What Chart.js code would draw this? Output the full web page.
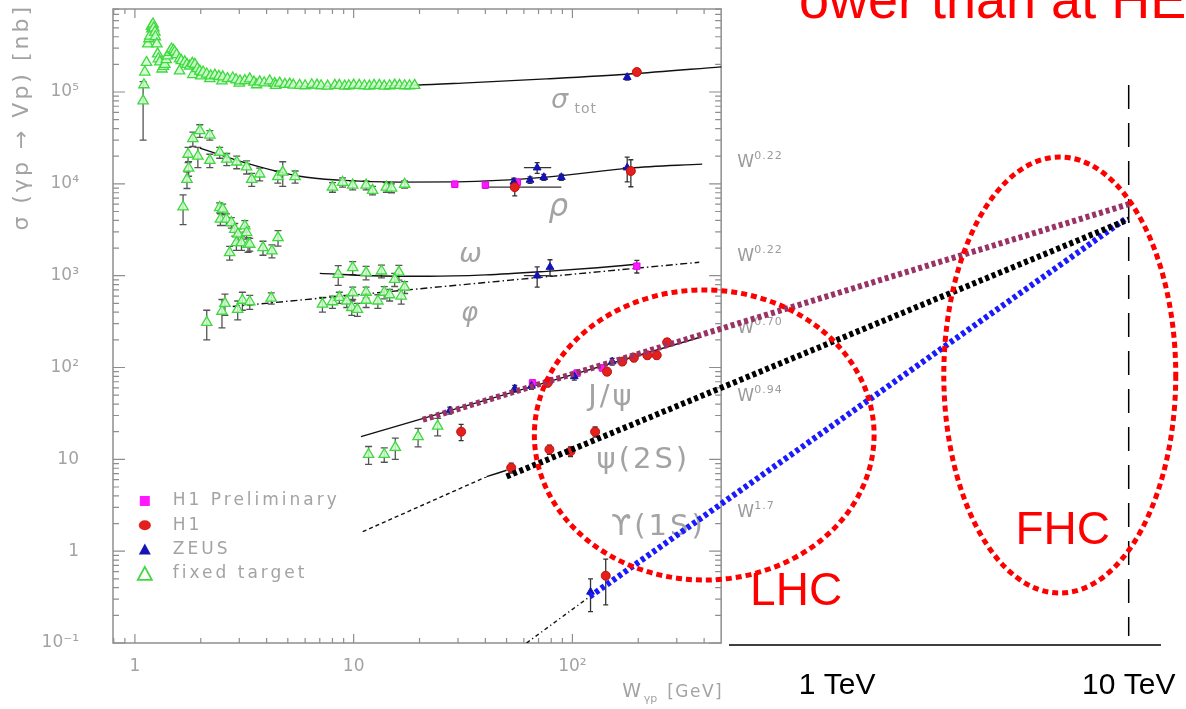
<!DOCTYPE html>
<html><head><meta charset="utf-8">
<script src="https://cdn.jsdelivr.net/npm/chart.js@4.4.1/dist/chart.umd.min.js"></script>
<style>html,body{margin:0;padding:0;background:#fff;overflow:hidden}</style>
</head><body>
<canvas id="c" width="1186" height="709" style="width:1186px;height:709px;display:block"></canvas>
<script>
// ---------------- tick labels ----------------
const xTickValues = [1, 10, 100, 1000, 10000];
const xTickLabels = ['1', '10', '10²', '1 TeV', '10 TeV'];
const yTickValues = [0.1, 1, 10, 100, 1000, 10000, 100000];
const yTickLabels = ['10⁻¹', '1', '10', '10²', '10³', '10⁴', '10⁵'];

// ---------------- fixed target (open green triangles) ----------------
const totFtW = [1.09,1.10,1.11,1.13,1.146,1.16,1.17,1.19,1.196,1.21,1.22,1.234,1.24,1.26,1.27,1.28,1.30,1.33,1.35,1.37,1.39,1.41,1.44,1.47,1.50,1.52,1.55,1.60,1.60,1.63,1.69,1.73,1.78,1.83,1.84,1.88,1.93,1.98,2.0,2.05,2.13,2.2,2.22,2.32,2.42,2.5,2.52,2.65,2.80,2.90,3.0,3.02,3.18,3.35,3.5,3.6,3.72,3.9,4.13,4.35,4.4,4.59,4.85,5.1,5.3,5.66,6.0,6.43,6.8,7.1,7.6,8.2,8.6,9.1,9.5,10,10.6,11.2,11.8,12.4,13.1,13.8,14.6,15.4,16.2,17.1,18,19];
const totFtS = [80000,120000,165000,210000,334000,380000,407000,520000,486000,550000,500000,450000,400000,334000,260000,230000,213000,178000,190000,200000,225000,247000,270000,294000,285000,273000,255000,229000,170000,220000,213000,200000,192000,205000,155000,200000,180000,169000,150000,165000,157000,140000,150000,153000,148000,132000,146000,140000,142000,136000,125000,132000,133000,139000,128000,120000,129000,126000,132000,124000,118000,125000,121000,122000,119000,118000,117000,120000,119000,117000,116000,118000,118000,116000,117000,119000,118000,117000,116000,118000,118000,116000,117000,119000,118000,117000,117000,118000];
const totFtErr = [50000,0,0,0,0,0,0,0,0,0,0,0,0,0,0,0,0,0,0,0,0,0,0,0,0,0,0,0,0,0,0,0,0,0,0,0,0,0,0,0,0,0,0,0,0,0,0,0,0,0,0,0,0,0,0,0,0,0,0,0,0,0,0,0,0,0,0,0,0,0,0,0,0,0,0,0,0,0,0,0,0,0,0,0,0,0,0,0];

const rhoFtW = [1.66,1.73,1.76,1.75,1.84,1.98,2.2,1.94,2.2,2.44,2.63,2.92,3.24,3.42,3.72,4.5,4.74,5.4,8.0,8.9,9.9,11.4,12.2,14.1,14.9,17.1];
const rhoFtS = [5600,11200,14800,21000,31000,38000,34000,20000,18000,22000,18600,17300,15300,11200,12800,12000,13400,12000,9200,10400,9700,9700,8500,9200,9000,9900];
const rhoFtErr = [2000,2300,2700,4000,5500,6000,4000,5000,3000,3000,2800,2700,2500,1800,2000,1800,4000,1800,1100,1200,1100,1100,900,1100,1000,900];

const omegaLowFtW = [2.44,2.52,2.46,2.62,2.76,2.86,2.96,2.91,3.07,3.18,3.24,3.29,2.71,3.35,3.85,4.23,4.51];
const omegaLowFtS = [5520,5300,4120,4120,3790,3200,2830,2290,2290,3480,2950,2200,1780,2200,2020,1860,2600];
const omegaLowFtErr = [700,700,600,600,500,500,400,400,400,500,450,400,300,350,350,300,500];

const omegaFtW = [8.5,9.9,11.4,13.4,16.1,15.4];
const omegaFtS = [1035,1225,1080,1125,1095,912];
const omegaFtErr = [250,200,180,180,200,150];

const phiFtW = [2.13,2.5,2.58,2.95,3.1,3.35,4.2,7.2,8.0,8.6,9.3,9.8,10.4,9.9,11.4,11.4,12.9,13.8,14.6,16.5,17.1];
const phiFtS = [310,410,500,430,540,520,570,490,520,580,530,450,430,650,660,540,530,660,620,600,750];
const phiFtErr = [110,140,130,100,120,90,80,90,80,80,80,80,70,100,90,90,90,100,90,110,110];

const jpsiFtW = [11.7,13.8,15.5,19.7,24.2];
const jpsiFtS = [11.3,11.3,13.5,17.7,23];
const jpsiFtErr = [2.5,2,3.5,4,5];

// ---------------- H1 (red circles) ----------------
const h1W = [197, 54.5, 185, 31, 77, 144, 169, 191, 220, 243, 271, 52.5, 78.5, 98, 127, 142];
const h1S = [165000, 9200, 13800, 20, 68, 90, 116, 128, 136, 136, 188, 8.1, 12.8, 12.2, 20, 0.54];
const h1Err = [8000, 1800, 4500, 4, 6, 8, 10, 12, 12, 12, 18, 1, 1.5, 1.5, 2.5, 0.28];
const h1WLo = [0, 40, 0, 0, 0, 0, 0, 0, 0, 0, 0, 0, 0, 0, 0, 0];
const h1WHi = [0, 89, 0, 0, 0, 0, 0, 0, 0, 0, 0, 0, 0, 0, 0, 0];

// ---------------- ZEUS (blue triangles) ----------------
const zeusW = [178, 54, 64, 69, 74, 89, 178, 69, 79, 27.5, 54.5, 65, 102, 152, 121];
const zeusS = [145000, 10500, 11000, 15000, 11800, 11800, 15000, 1000, 1240, 34, 59, 63, 80, 116, 0.36];
const zeusErr = [10000, 1000, 900, 2000, 900, 900, 4500, 250, 250, 3, 5, 5, 7, 10, 0.14];
const zeusWLo = [0, 0, 0, 60, 0, 0, 170, 60, 0, 0, 0, 0, 0, 0, 0];
const zeusWHi = [0, 0, 0, 80, 0, 0, 190, 80, 0, 0, 0, 0, 0, 0, 0];

// ---------------- H1 Preliminary (magenta squares) ----------------
const h1pW = [29, 40, 56, 197, 65.7, 78.5, 105, 137];
const h1pS = [9900, 9700, 10400, 1270, 68, 72, 87, 99];
const h1pErr = [700, 700, 800, 200, 5, 5, 6, 7];

// ---------------- fitted curves ----------------
const totCurveW = [5.0, 7.8, 19.4, 31.4, 76, 182, 479];
const totCurveS = [116000, 115000, 119000, 125000, 139000, 157000, 188000];
const rhoCurveW = [1.98, 3.35, 5.66, 8.6, 16.2, 29.5, 76, 182, 392];
const rhoCurveS = [24500, 16400, 12100, 10970, 10430, 10500, 11830, 14830, 16400];
const omegaCurveW = [7, 12, 22, 40, 76, 130, 195];
const omegaCurveS = [1060, 1000, 984, 1020, 1114, 1220, 1330];
const phiCurveW = [2.8, 380];
const phiCurveS = [462, 1400];
const jpsiCurveW = [10.8, 380];
const jpsiCurveS = [17.7, 212];
const psi2sDashW = [11, 40.5];
const psi2sDashS = [1.63, 6.47];
const psi2sSolidW = [40.5, 50];
const psi2sSolidS = [6.47, 7.6];
const upsCurveW = [61.7, 120];
const upsCurveS = [0.1, 0.32];

// ---------------- extrapolations to 10 TeV ----------------
const jpsiExtW = [20.7, 10000];
const jpsiExtS = [27, 6000];
const psi2sExtW = [50, 10000];
const psi2sExtS = [6.5, 4100];
const upsExtW = [120, 9700];
const upsExtS = [0.32, 4100];

// ---------------- annotations (data coordinates) ----------------
const procLabels = ['σ', 'ρ', 'ω', 'φ', 'J/ψ', 'ψ(2S)', 'ϒ(1S)'];
const procLabelW = [87.3, 86.3, 34.2, 33.9, 150.7, 211, 247];
const procLabelS = [79800, 5460, 1680, 383, 46.6, 9.6, 1.79];
const powerLabels = ['0.22', '0.22', '0.70', '0.94', '1.7'];
const powerLabelS = [17700, 1680, 276, 50, 2.73];
const legendLabels = ['H1 Preliminary', 'H1', 'ZEUS', 'fixed target'];

// ---------------- piecewise log scale (the slide stretches above ~500 GeV) ----------------
const LogBase = Chart.LogarithmicScale || Chart.registry.getScale('logarithmic');
const BREAK1 = 2.68, BREAK2 = 3.0, STRETCH1 = 362.5 / 219, STRETCH2 = 292 / 219;
function uOfLog(L) {
  if (L <= BREAK1) return L;
  if (L <= BREAK2) return BREAK1 + (L - BREAK1) * STRETCH1;
  return BREAK1 + (BREAK2 - BREAK1) * STRETCH1 + (L - BREAK2) * STRETCH2;
}
function logOfU(u) {
  const u1 = BREAK1, u2 = BREAK1 + (BREAK2 - BREAK1) * STRETCH1;
  if (u <= u1) return u;
  if (u <= u2) return BREAK1 + (u - u1) / STRETCH1;
  return BREAK2 + (u - u2) / STRETCH2;
}
class SlideLogScale extends LogBase {
  _uRange() { return [uOfLog(Math.log10(this.min)), uOfLog(Math.log10(this.max))]; }
  getPixelForValue(value) {
    if (value === undefined || value === null || !(value > 0)) return NaN;
    const r = this._uRange();
    return this.getPixelForDecimal((uOfLog(Math.log10(value)) - r[0]) / (r[1] - r[0]));
  }
  getValueForPixel(pixel) {
    const r = this._uRange();
    return Math.pow(10, logOfU(r[0] + this.getDecimalForPixel(pixel) * (r[1] - r[0])));
  }
}
SlideLogScale.id = 'slidelog';
SlideLogScale.defaults = LogBase.defaults;
Chart.register(SlideLogScale);

const X_MIN = 0.794, X_MAX = 14840, Y_MIN = 0.1, Y_MAX = 801700;
const FRAME_RIGHT_W = 478.6, RIGHT_AXIS_FROM = 503, RIGHT_AXIS_TO = 12900;
const GRAY = '#a3a3a3';

const P = (W, S) => W.map((w, i) => ({x: w, y: S[i]}));
const ftStyle = {pointStyle: 'triangle', pointRadius: 6, pointBorderWidth: 1.3, pointBorderColor: '#3fd83f', pointBackgroundColor: 'rgba(205,255,205,0.85)', showLine: false, order: 2, errColor: '#555', cap: 7};
const curve = (W, S, dash, width) => ({data: P(W, S), showLine: true, pointRadius: 0, borderColor: '#111', borderWidth: width || 1.4, borderDash: dash || [], fill: false, cubicInterpolationMode: 'monotone', order: 3});
const ext = (W, S, color) => ({data: P(W, S), showLine: true, pointRadius: 0, borderColor: color, borderWidth: 6, borderDash: [4, 3], borderCapStyle: 'butt', fill: false, order: 0});

const datasets = [
  curve(totCurveW, totCurveS), curve(rhoCurveW, rhoCurveS), curve(omegaCurveW, omegaCurveS),
  curve(phiCurveW, phiCurveS, [7, 3, 1.5, 3]), curve(jpsiCurveW, jpsiCurveS),
  curve(psi2sDashW, psi2sDashS, [4, 3]), curve(psi2sSolidW, psi2sSolidS), curve(upsCurveW, upsCurveS, [4, 3, 1.2, 3]),
  Object.assign({data: P(totFtW, totFtS), err: totFtErr}, ftStyle),
  Object.assign({data: P(rhoFtW, rhoFtS), err: rhoFtErr}, ftStyle),
  Object.assign({data: P(omegaLowFtW, omegaLowFtS), err: omegaLowFtErr}, ftStyle),
  Object.assign({data: P(omegaFtW, omegaFtS), err: omegaFtErr}, ftStyle),
  Object.assign({data: P(phiFtW, phiFtS), err: phiFtErr}, ftStyle),
  Object.assign({data: P(jpsiFtW, jpsiFtS), err: jpsiFtErr}, ftStyle),
  {data: P(h1W, h1S), err: h1Err, wLo: h1WLo, wHi: h1WHi, pointStyle: 'circle', pointRadius: 4.5, pointBackgroundColor: '#e3201c', pointBorderColor: '#c81010', pointBorderWidth: 1, showLine: false, order: 1, errColor: '#333', cap: 5},
  {data: P(zeusW, zeusS), err: zeusErr, wLo: zeusWLo, wHi: zeusWHi, pointStyle: 'triangle', pointRadius: 4.5, pointBackgroundColor: '#1414b4', pointBorderColor: '#1414b4', pointBorderWidth: 1, showLine: false, order: 1, errColor: '#333', cap: 5},
  {data: P(h1pW, h1pS), err: h1pErr, pointStyle: 'rect', pointRadius: 4.5, pointBackgroundColor: '#ff19ff', pointBorderColor: '#ee00ee', pointBorderWidth: 1, showLine: false, order: 1, errColor: '#333', cap: 5},
  ext(jpsiExtW, jpsiExtS, '#993366'), ext(psi2sExtW, psi2sExtS, '#000000'), ext(upsExtW, upsExtS, '#1a1aff')
];

function txt(ctx, s, x, y, font, color, align, base, spacing) {
  ctx.save();
  ctx.font = font; ctx.fillStyle = color; ctx.textAlign = align || 'left'; ctx.textBaseline = base || 'alphabetic';
  if ('letterSpacing' in ctx) ctx.letterSpacing = spacing || '0px';
  ctx.fillText(s, x, y);
  ctx.restore();
}

const overlay = {
  id: 'overlay',
  beforeDatasetsDraw(chart) {
    const ctx = chart.ctx, xs = chart.scales.x, ys = chart.scales.y;
    const X = v => xs.getPixelForValue(v), Y = v => ys.getPixelForValue(v);
    const L = xs.left, R = X(FRAME_RIGHT_W), T = ys.top, B = ys.bottom;
    ctx.save();
    ctx.strokeStyle = '#8e8e8e'; ctx.lineWidth = 1.5;
    ctx.strokeRect(L, T, R - L, B - T);
    ctx.lineWidth = 1.2;
    ctx.beginPath();
    const xMinor = [0.8, 0.9, 2, 3, 4, 5, 6, 7, 8, 9, 20, 30, 40, 50, 60, 70, 80, 90, 200, 300, 400];
    [1, 10, 100].forEach(v => { const p = X(v); ctx.moveTo(p, B); ctx.lineTo(p, B - 9); ctx.moveTo(p, T); ctx.lineTo(p, T + 9); });
    xMinor.forEach(v => { const p = X(v); ctx.moveTo(p, B); ctx.lineTo(p, B - 5); ctx.moveTo(p, T); ctx.lineTo(p, T + 5); });
    yTickValues.forEach(v => { const p = Y(v); ctx.moveTo(L, p); ctx.lineTo(L + 12, p); ctx.moveTo(R, p); ctx.lineTo(R - 12, p); });
    yTickValues.forEach(d => { for (let k = 2; k <= 9; k++) { const v = d * k; if (v > Y_MAX) break; const p = Y(v); ctx.moveTo(L, p); ctx.lineTo(L + 6, p); ctx.moveTo(R, p); ctx.lineTo(R - 6, p); } });
    ctx.stroke();
    ctx.strokeStyle = '#000'; ctx.lineWidth = 1.5;
    ctx.beginPath(); ctx.moveTo(X(RIGHT_AXIS_FROM), B + 2); ctx.lineTo(X(RIGHT_AXIS_TO), B + 2); ctx.stroke();
    ctx.setLineDash([24, 14]); ctx.lineWidth = 1.5;
    ctx.beginPath(); ctx.moveTo(X(10000), Y(119000)); ctx.lineTo(X(10000), Y(0.119)); ctx.stroke();
    ctx.setLineDash([]);
    ctx.restore();

    // y axis title (rotated)
    ctx.save();
    ctx.translate(22, T - 5); ctx.rotate(-Math.PI / 2);
    txt(ctx, 'σ (γp → Vp) [nb]', 0, 0, '22px "DejaVu Sans"', GRAY, 'right', 'middle', '3px');
    ctx.restore();

    const fonts = ['italic 27px "DejaVu Sans"', 'italic 31px "DejaVu Sans"', 'italic 27px "DejaVu Sans"', 'italic 26px "DejaVu Sans"', '29px "DejaVu Sans"', '29px "DejaVu Sans"', '29px "DejaVu Sans"'];
    procLabels.forEach((s, i) => txt(ctx, s, X(procLabelW[i]), Y(procLabelS[i]), fonts[i], GRAY, 'center', 'middle', i >= 4 ? '3px' : '0px'));
    txt(ctx, 'tot', X(procLabelW[0]) + 15, Y(procLabelS[0]) + 12, '14px "DejaVu Sans"', GRAY, 'left', 'alphabetic', '1px');
    powerLabels.forEach((s, i) => {
      const x = X(530), y = Y(powerLabelS[i]);
      txt(ctx, 'W', x, y + 6, '17px "DejaVu Sans"', '#9a9a9a', 'left', 'alphabetic');
      txt(ctx, s, x + 17, y - 2, '11px "DejaVu Sans"', '#9a9a9a', 'left', 'alphabetic', '1px');
    });
    const tx = X(FRAME_RIGHT_W) + 2, ty = B + 54;
    txt(ctx, '[GeV]', tx, ty, '17px "DejaVu Sans"', GRAY, 'right', 'alphabetic', '1.5px');
    txt(ctx, 'γp', tx - 66, ty + 5, '11px "DejaVu Sans"', GRAY, 'right', 'alphabetic');
    txt(ctx, 'W', tx - 82, ty, '19px "DejaVu Sans"', GRAY, 'right', 'alphabetic');

    // error bars
    chart.data.datasets.forEach((ds, i) => {
      if (!ds.err) return;
      const meta = chart.getDatasetMeta(i);
      ctx.save(); ctx.strokeStyle = ds.errColor; ctx.lineWidth = 1.3; ctx.beginPath();
      ds.data.forEach((p, j) => {
        const x = meta.data[j].x, y = meta.data[j].y;
        const e = ds.err[j];
        if (e) {
          const y1 = Y(Math.max(p.y - e, Y_MIN)), y2 = Y(p.y + e);
          ctx.moveTo(x, y1); ctx.lineTo(x, y2);
          ctx.moveTo(x - ds.cap / 2, y1); ctx.lineTo(x + ds.cap / 2, y1);
          ctx.moveTo(x - ds.cap / 2, y2); ctx.lineTo(x + ds.cap / 2, y2);
        }
        if (ds.wLo && ds.wLo[j]) { ctx.moveTo(X(ds.wLo[j]), y); ctx.lineTo(X(ds.wHi[j]), y); }
      });
      ctx.stroke(); ctx.restore();
    });
  },
  afterDatasetsDraw(chart) {
    const ctx = chart.ctx, xs = chart.scales.x, ys = chart.scales.y;
    const X = v => xs.getPixelForValue(v), Y = v => ys.getPixelForValue(v);
    const ell = (w0, w1, s0, s1) => {
      const x0 = X(w0), x1 = X(w1), y0 = Y(s0), y1 = Y(s1);
      ctx.save(); ctx.strokeStyle = '#ff0000'; ctx.lineWidth = 5; ctx.setLineDash([6, 4]);
      ctx.beginPath(); ctx.ellipse((x0 + x1) / 2, (y0 + y1) / 2, Math.abs(x1 - x0) / 2, Math.abs(y1 - y0) / 2, 0, 0, Math.PI * 2); ctx.stroke();
      ctx.restore();
    };
    ell(67, 1340, 0.485, 700);
    ell(2323, 14500, 0.35, 19600);
    txt(ctx, 'LHC', X(771), Y(0.359), '46px "Liberation Sans"', '#ff0000', 'center', 'middle');
    txt(ctx, 'FHC', X(5943), Y(1.66), '46px "Liberation Sans"', '#ff0000', 'center', 'middle');
    txt(ctx, 'ower than at HE', X(785), Y(640000), '54px "Liberation Sans"', '#ff0000', 'left', 'alphabetic');
    const lx = X(1.11), ly = Y(3.52);
    const markers = [
      (x, y) => { ctx.fillStyle = '#ff19ff'; ctx.fillRect(x - 5, y - 5, 10, 10); },
      (x, y) => { ctx.fillStyle = '#e3201c'; ctx.beginPath(); ctx.ellipse(x, y, 6, 5, 0, 0, Math.PI * 2); ctx.fill(); },
      (x, y) => { ctx.fillStyle = '#1414b4'; ctx.beginPath(); ctx.moveTo(x, y - 6); ctx.lineTo(x + 6, y + 5); ctx.lineTo(x - 6, y + 5); ctx.closePath(); ctx.fill(); },
      (x, y) => { ctx.strokeStyle = '#3fd83f'; ctx.lineWidth = 1.8; ctx.beginPath(); ctx.moveTo(x, y - 7); ctx.lineTo(x + 7, y + 6); ctx.lineTo(x - 7, y + 6); ctx.closePath(); ctx.stroke(); }
    ];
    legendLabels.forEach((s, i) => {
      const y = ly + i * 24.3;
      ctx.save(); markers[i](lx, y); ctx.restore();
      txt(ctx, s, lx + 28, y, '17px "DejaVu Sans"', GRAY, 'left', 'middle', '3px');
    });
  }
};

new Chart(document.getElementById('c'), {
  type: 'scatter',
  data: {datasets},
  options: {
    responsive: false, animation: false, devicePixelRatio: 1, events: [],
    layout: {padding: {top: 9, right: 6, left: 0, bottom: 0}},
    plugins: {legend: {display: false}, tooltip: {enabled: false}},
    scales: {
      x: {
        type: 'slidelog', min: X_MIN, max: X_MAX,
        grid: {display: false}, border: {display: false},
        afterBuildTicks: s => { s.ticks = xTickValues.map(v => ({value: v})); },
        afterFit: s => { s.height = 66; s.paddingLeft = 0; s.paddingRight = 0; s.paddingTop = 0; s.paddingBottom = 0; },
        ticks: {
          autoSkip: false, maxRotation: 0, padding: 5,
          callback: v => { const i = xTickValues.indexOf(v); return i >= 0 ? xTickLabels[i] : ''; },
          font: c => (c.tick && c.tick.value >= 1000) ? {family: 'Liberation Sans', size: 30, lineHeight: 1.95} : {family: 'DejaVu Sans', size: 17, lineHeight: 1.2},
          color: c => (c.tick && c.tick.value >= 1000) ? '#000' : GRAY
        }
      },
      y: {
        type: 'logarithmic', min: Y_MIN, max: Y_MAX,
        grid: {display: false}, border: {display: false},
        afterBuildTicks: s => { s.ticks = yTickValues.map(v => ({value: v})); },
        afterFit: s => { s.width = 113; s.paddingTop = 0; s.paddingBottom = 0; s.paddingLeft = 0; s.paddingRight = 0; },
        ticks: {
          padding: 26, crossAlign: 'near',
          callback: v => { const i = yTickValues.findIndex(t => Math.abs(t - v) / t < 1e-6); return i >= 0 ? yTickLabels[i] : ''; },
          font: {family: 'DejaVu Sans', size: 17}, color: GRAY
        },
        title: {display: false}
      }
    }
  },
  plugins: [overlay]
});
</script>
</body></html>
